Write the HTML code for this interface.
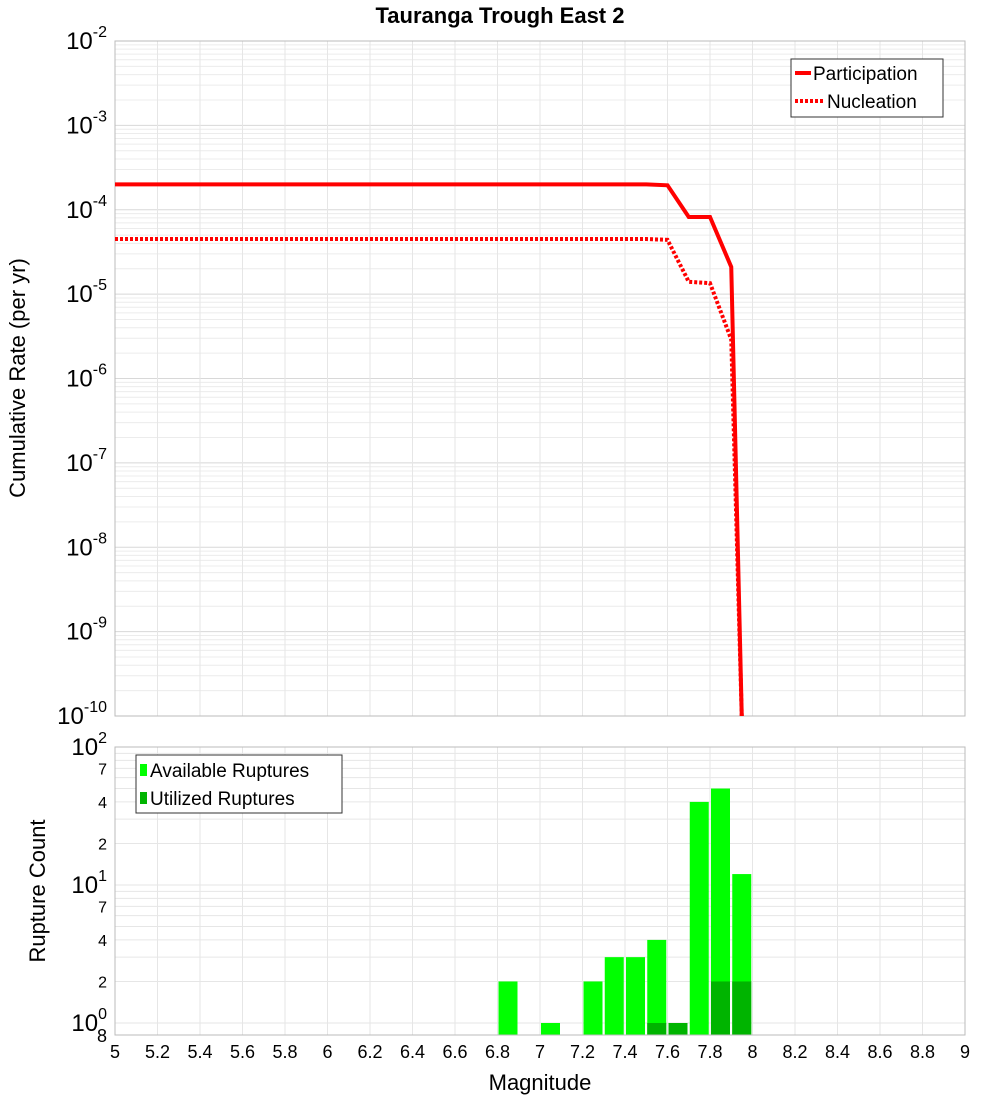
<!DOCTYPE html>
<html><head><meta charset="utf-8"><style>
body{margin:0;background:#fff;font-family:"Liberation Sans",sans-serif}
</style></head><body>
<svg id="c" width="1000" height="1100" xmlns="http://www.w3.org/2000/svg" font-family="Liberation Sans, sans-serif">
<text x="500" y="23" text-anchor="middle" font-size="22" font-weight="bold">Tauranga Trough East 2</text>
<g id="topg"></g><g id="botg"></g>
<text transform="translate(25,378) rotate(-90)" text-anchor="middle" font-size="22">Cumulative Rate (per yr)</text>
<text transform="translate(45,891) rotate(-90)" text-anchor="middle" font-size="22">Rupture Count</text>
<text x="540" y="1090" text-anchor="middle" font-size="22">Magnitude</text>
</svg>
<script>
const partMag=[5,5.1,5.2,5.3,5.4,5.5,5.6,5.7,5.8,5.9,6,6.1,6.2,6.3,6.4,6.5,6.6,6.7,6.8,6.9,7,7.1,7.2,7.3,7.4,7.5,7.6,7.7,7.8,7.9,7.95];
const partRate=[2e-4,2e-4,2e-4,2e-4,2e-4,2e-4,2e-4,2e-4,2e-4,2e-4,2e-4,2e-4,2e-4,2e-4,2e-4,2e-4,2e-4,2e-4,2e-4,2e-4,2e-4,2e-4,2e-4,2e-4,2e-4,2e-4,1.95e-4,8.2e-5,8.2e-5,2.1e-5,1e-11];
const nuclRate=[4.5e-5,4.5e-5,4.5e-5,4.5e-5,4.5e-5,4.5e-5,4.5e-5,4.5e-5,4.5e-5,4.5e-5,4.5e-5,4.5e-5,4.5e-5,4.5e-5,4.5e-5,4.5e-5,4.5e-5,4.5e-5,4.5e-5,4.5e-5,4.5e-5,4.5e-5,4.5e-5,4.5e-5,4.5e-5,4.5e-5,4.4e-5,1.4e-5,1.35e-5,2.9e-6,1e-11];
const binMag=[6.85,7.05,7.25,7.35,7.45,7.55,7.65,7.75,7.85,7.95];
const availCount=[2,1,2,3,3,4,1,40,50,12];
const usedCount=[0,0,0,0,0,1,1,0,2,2];
const xTicks=[5,5.2,5.4,5.6,5.8,6,6.2,6.4,6.6,6.8,7,7.2,7.4,7.6,7.8,8,8.2,8.4,8.6,8.8,9];
const NS="http://www.w3.org/2000/svg";
const X0=115,X1=965;
const xs=m=>X0+(m-5)/4*(X1-X0);
const T0=41,T1=716;
const yTop=v=>T0+(-2-Math.log10(v))/8*(T1-T0);
const B0=747,B1=1035;
const yBot=v=>B0+(2-Math.log10(v))*138;
function mk(p,t,a){const e=document.createElementNS(NS,t);for(const k in a)e.setAttribute(k,a[k]);p.appendChild(e);return e;}
const topG=document.getElementById('topg'),botG=document.getElementById('botg');
for(let d=-10;d<-2;d++)for(let k=1;k<10;k++){const y=yTop(k*Math.pow(10,d));const g=mk(topG,'line',{x1:X0,x2:X1,y1:y,y2:y,stroke:k==1?'#d8d8d8':'#ececec','stroke-width':1});}
xTicks.forEach(m=>{const g=mk(topG,'line',{x1:xs(m),x2:xs(m),y1:T0,y2:T1,stroke:'#e6e6e6'});
const h=mk(botG,'line',{x1:xs(m),x2:xs(m),y1:B0,y2:B1,stroke:'#e6e6e6'});});
let r=mk(topG,'rect',{x:X0,y:T0,width:X1-X0,height:T1-T0,fill:'none',stroke:'#bbb'});
for(let d=-10;d<=-2;d++){const t=mk(topG,'text',{x:107,y:yTop(Math.pow(10,d))+8,'text-anchor':'end','font-size':24});t.innerHTML='10<tspan dy="-12" font-size="16">'+d+'</tspan>';}
const clip=mk(topG,'clipPath',{id:'cp'});mk(clip,'rect',{x:X0,y:T0,width:X1-X0,height:T1-T0});
function line(arr,dash,name){const p=mk(topG,'polyline',{points:partMag.map((m,i)=>xs(m)+','+Math.min(yTop(arr[i]),T1+5)).join(' '),fill:'none',stroke:'#f00','stroke-width':4,'clip-path':'url(#cp)'});if(dash)p.setAttribute('stroke-dasharray','3,2');}
line(nuclRate,true,'nucleation-line');line(partRate,false,'participation-line');
let lg=mk(topG,'g',{});
mk(lg,'rect',{x:791,y:59,width:152,height:58,fill:'#fff',stroke:'#333'});
mk(lg,'line',{x1:795,x2:811,y1:73,y2:73,stroke:'#f00','stroke-width':4});
mk(lg,'line',{x1:795,x2:823,y1:101,y2:101,stroke:'#f00','stroke-width':4,'stroke-dasharray':'3,2'});
let t=mk(lg,'text',{x:813,y:80,'font-size':19});t.textContent='Participation';
t=mk(lg,'text',{x:827,y:108,'font-size':19});t.textContent='Nucleation';
for(let d=0;d<2;d++)for(let k=1;k<10;k++){const y=yBot(k*Math.pow(10,d));const g=mk(botG,'line',{x1:X0,x2:X1,y1:y,y2:y,stroke:'#e6e6e6'});}
binMag.forEach((m,i)=>{const a=mk(botG,'rect',{x:xs(m-0.05)+1,y:yBot(availCount[i]),width:19,height:B1-yBot(availCount[i]),fill:'#00ff00'});
if(usedCount[i]>0){const u=mk(botG,'rect',{x:xs(m-0.05)+1,y:yBot(usedCount[i]),width:19,height:B1-yBot(usedCount[i]),fill:'#00b400'});}});
r=mk(botG,'rect',{x:X0,y:B0,width:X1-X0,height:B1-B0,fill:'none',stroke:'#bbb'});
[[100,'10','2'],[70,'7'],[40,'4'],[20,'2'],[10,'10','1'],[7,'7'],[4,'4'],[2,'2'],[1,'10','0']].forEach(a=>{const y=yBot(a[0]);const tt=mk(botG,'text',{x:107,y:y+(a[2]?8:6),'text-anchor':'end','font-size':a[2]?24:16});tt.innerHTML=a[2]?a[1]+'<tspan dy="-12" font-size="16">'+a[2]+'</tspan>':a[1];});
t=mk(botG,'text',{x:107,y:1042,'text-anchor':'end','font-size':18});t.textContent='8';
xTicks.forEach(m=>{const tt=mk(botG,'text',{x:xs(m),y:1058,'text-anchor':'middle','font-size':18});tt.textContent=String(m);});
lg=mk(botG,'g',{});
mk(lg,'rect',{x:136,y:755,width:206,height:58,fill:'#fff',stroke:'#333'});
mk(lg,'rect',{x:140,y:764,width:7,height:12,fill:'#00ff00'});
mk(lg,'rect',{x:140,y:792,width:7,height:12,fill:'#00b400'});
t=mk(lg,'text',{x:150,y:777,'font-size':19});t.textContent='Available Ruptures';
t=mk(lg,'text',{x:150,y:805,'font-size':19});t.textContent='Utilized Ruptures';
</script>
</body></html>
